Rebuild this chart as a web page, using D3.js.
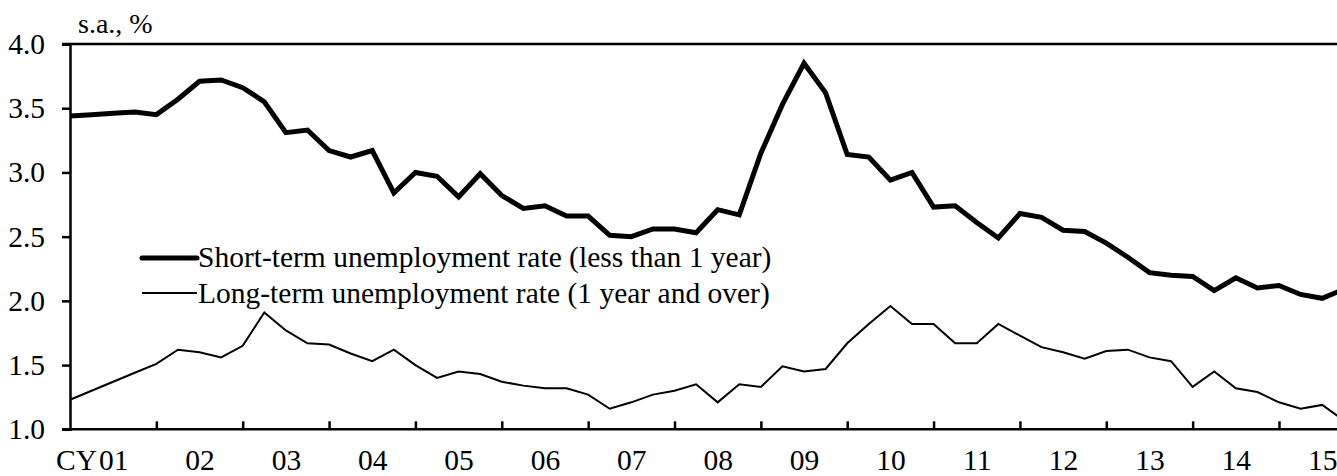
<!DOCTYPE html>
<html><head><meta charset="utf-8">
<script src="https://cdn.jsdelivr.net/npm/d3@7"></script>
<style>
html,body{margin:0;padding:0;background:#fff;}
svg{display:block;}
text{font-family:"Liberation Serif","Times New Roman",serif;fill:#000;}
</style></head>
<body><svg id="c" width="1337" height="476"></svg>
<script>
const years = ["01","02","03","04","05","06","07","08","09","10","11","12","13","14","15"];
const yTicks = [1.0,1.5,2.0,2.5,3.0,3.5,4.0];
const seriesNames = ["Short-term unemployment rate (less than 1 year)","Long-term unemployment rate (1 year and over)"];
// quarterly, 2001Q1 ...
const shortTerm = [3.44,3.45,3.46,3.47,3.45,3.57,3.71,3.72,3.66,3.55,3.31,3.33,3.17,3.12,3.17,2.84,
  3.00,2.97,2.81,2.99,2.82,2.72,2.74,2.66,2.66,2.51,2.50,2.56,2.56,2.53,2.71,2.67,
  3.15,3.53,3.85,3.62,3.14,3.12,2.94,3.00,2.73,2.74,2.61,2.49,2.68,2.65,2.55,2.54,
  2.45,2.34,2.22,2.20,2.19,2.08,2.18,2.10,2.12,2.05,2.02,2.09];
const longTerm = [1.23,1.30,1.37,1.44,1.51,1.62,1.60,1.56,1.65,1.91,1.77,1.67,1.66,1.59,1.53,1.62,
  1.50,1.40,1.45,1.43,1.37,1.34,1.32,1.32,1.27,1.16,1.21,1.27,1.30,1.35,1.21,1.35,
  1.33,1.49,1.45,1.47,1.67,1.82,1.96,1.82,1.82,1.67,1.67,1.82,1.73,1.64,1.60,1.55,
  1.61,1.62,1.56,1.53,1.33,1.45,1.32,1.29,1.21,1.16,1.19,1.07];

const svg = d3.select("#c");
const FS = 29.5;
const x = d3.scaleLinear().domain([0,56]).range([70,1279]);
const y = d3.scaleLinear().domain([1,4]).range([429.3,44]);

// top border
svg.append("line").attr("x1",62).attr("x2",1337).attr("y1",y(4)).attr("y2",y(4))
  .attr("stroke","#000").attr("stroke-width",2.5);

// y axis
const ya = svg.append("g").attr("transform","translate(70,0)")
  .call(d3.axisLeft(y).tickValues(yTicks).tickFormat(d3.format(".1f")).tickSize(8).tickPadding(17));
ya.select(".domain").attr("stroke","#000").attr("stroke-width",2.5);
ya.selectAll(".tick line").attr("stroke","#000").attr("stroke-width",2.5);
ya.selectAll("text").style("font-size",FS+"px").attr("font-family",null);

// x axis ticks (inward)
const xb = d3.range(4,61,4);
const xa = svg.append("g").attr("transform",`translate(0,${y(1)})`)
  .call(d3.axisBottom(x).tickValues(xb).tickSize(-8).tickFormat(""));
xa.select(".domain").remove();
xa.selectAll(".tick line").attr("stroke","#000").attr("stroke-width",2.5);
svg.append("line").attr("x1",62).attr("x2",1337).attr("y1",y(1)).attr("y2",y(1))
  .attr("stroke","#000").attr("stroke-width",2.5);

// x labels
const XLB = 470;
const xl = svg.append("g").attr("transform",`translate(0,${y(1)})`)
  .call(d3.axisBottom(x).tickValues(years.map((d,i)=>i*4+2)).tickSize(0)
    .tickFormat((d,i)=>years[i]));
xl.select(".domain").remove();
xl.selectAll("text").style("font-size",FS+"px").attr("font-family",null)
  .attr("y",XLB-429.3).attr("dy",0);
svg.append("text").attr("x",97).attr("y",XLB)
  .attr("text-anchor","end").style("font-size",FS+"px").text("CY");

// unit label
svg.append("text").attr("x",78).attr("y",33).style("font-size","28px").text("s.a., %");

// lines
const line = d3.line().x((d,i)=>x(i)).y(d=>y(d));
svg.append("path").datum(longTerm).attr("d",line).attr("fill","none")
  .attr("stroke","#000").attr("stroke-width",2).attr("stroke-linejoin","miter");
svg.append("path").datum(shortTerm).attr("d",line).attr("fill","none")
  .attr("stroke","#000").attr("stroke-width",5).attr("stroke-linejoin","miter");

// legend
const lg = svg.append("g");
[[5,258,267],[2,293,303]].forEach((s,k)=>{
  lg.append("line").attr("x1",142).attr("x2",197).attr("y1",s[1]).attr("y2",s[1])
    .attr("stroke","#000").attr("stroke-width",s[0]).attr("stroke-linecap", k==0?"round":"butt");
  lg.append("text").attr("x",198).attr("y",s[2])
    .style("font-size",FS+"px").text(seriesNames[k]);
});
</script></body></html>
